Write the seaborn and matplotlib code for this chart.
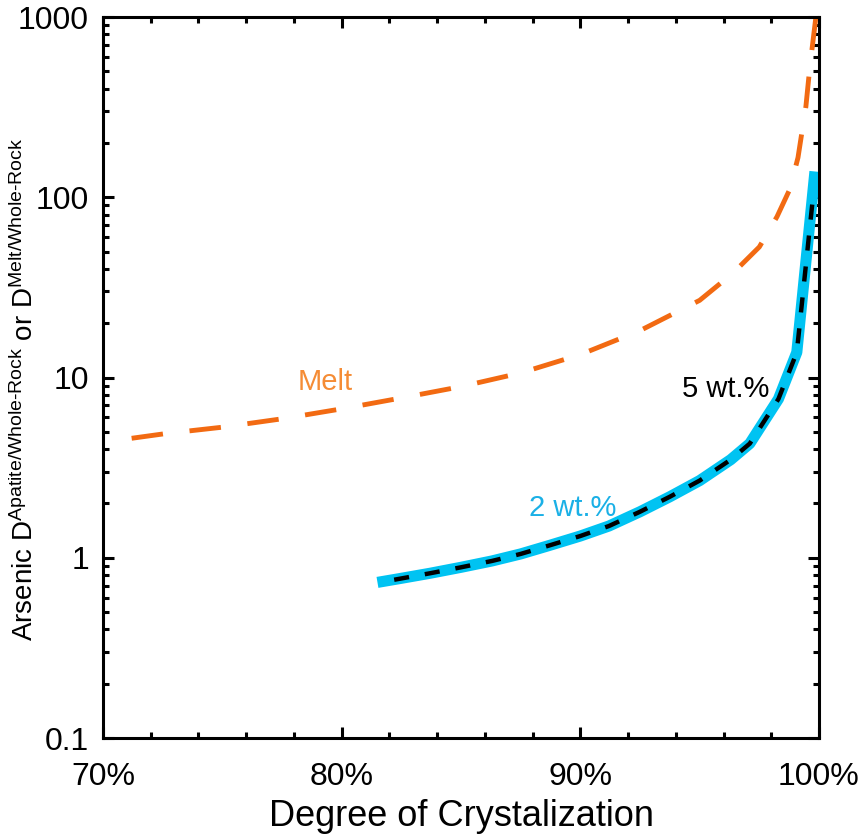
import matplotlib
matplotlib.use('Agg')
import matplotlib.pyplot as plt
from matplotlib.ticker import FixedLocator, MultipleLocator, FuncFormatter, NullFormatter
import numpy as np
import pandas as pd
import seaborn as sns

# degree of crystallisation (%) and D values
melt_f = [71.2, 72.7, 75.0, 77.5, 80.0, 82.5, 85.0, 87.5, 90.0, 92.5, 95.0,
          96.4, 97.5, 98.24, 98.78, 99.12, 99.45, 99.62, 99.87]
melt_d = [4.6, 4.9, 5.3, 5.9, 6.7, 7.7, 8.9, 10.6, 13.4, 18.2, 26.8,
          38, 53, 78, 111, 166, 318, 533, 1000]

ap2_f = [81.5, 82.4, 83.7, 85.0, 86.3, 87.5, 88.7, 90.0, 91.2, 92.5, 93.75,
         95.0, 96.3, 97.1, 98.3, 99.07, 99.83]
ap2_d = [0.73, 0.765, 0.82, 0.885, 0.96, 1.05, 1.17, 1.32, 1.5, 1.8, 2.18,
         2.68, 3.5, 4.3, 7.6, 13.8, 139]

ap5_f = [82.2, 83.7, 85.0, 86.3, 87.5, 88.7, 90.0, 91.2, 92.5, 93.75,
         95.0, 96.3, 97.1, 98.3, 99.07, 99.78]
ap5_d = [0.755, 0.82, 0.885, 0.96, 1.05, 1.17, 1.32, 1.5, 1.8, 2.18,
         2.68, 3.5, 4.3, 7.6, 13.8, 110]

x_ticks = [70, 80, 90, 100]
y_ticks = [0.1, 1, 10, 100, 1000]
y_ticklabels = ['0.1', '1', '10', '100', '1000']

sns.set_style('ticks')
plt.rcParams['font.family'] = ['Liberation Sans', 'DejaVu Sans']
plt.rcParams['mathtext.fontset'] = 'custom'
plt.rcParams['mathtext.rm'] = 'Liberation Sans'
plt.rcParams['mathtext.it'] = 'Liberation Sans'
for k in ['text.color', 'axes.labelcolor', 'xtick.color', 'ytick.color']:
    plt.rcParams[k] = 'black'

fig = plt.figure(figsize=(8.64, 8.35), dpi=100)
ax = fig.add_axes([103/864, 1-738/835, 716/864, 721/835])

orange = '#F26A12'
blue = '#00C3F2'

melt = pd.DataFrame({'F': melt_f, 'D': melt_d})
ap2 = pd.DataFrame({'F': ap2_f, 'D': ap2_d})
ap5 = pd.DataFrame({'F': ap5_f, 'D': ap5_d})

sns.lineplot(data=melt, x='F', y='D', ax=ax, color=orange, linewidth=3.5,
             linestyle=(0, (6.5, 5.5)), estimator=None, sort=False)
sns.lineplot(data=ap2, x='F', y='D', ax=ax, color=blue, linewidth=8,
             estimator=None, sort=False, solid_capstyle='butt')
sns.lineplot(data=ap5, x='F', y='D', ax=ax, color='black', linewidth=3.2,
             linestyle=(0, (3.4, 3.6)), estimator=None, sort=False)

ax.set_yscale('log')
ax.set_xlim(70, 100)
ax.set_ylim(0.1, 1000)
ax.xaxis.set_major_locator(FixedLocator(x_ticks))
ax.xaxis.set_minor_locator(MultipleLocator(2))
ax.xaxis.set_major_formatter(FuncFormatter(lambda v, p: '%d%%' % round(v)))
ax.yaxis.set_major_locator(FixedLocator(y_ticks))
ax.set_yticklabels(y_ticklabels)
ax.yaxis.set_minor_locator(matplotlib.ticker.LogLocator(base=10, subs=np.arange(2, 10)))
ax.yaxis.set_minor_formatter(NullFormatter())

for s in ax.spines.values():
    s.set_visible(True)
    s.set_linewidth(2.2)
    s.set_color('black')
ax.tick_params(which='both', direction='in', top=True, right=True, width=2.2, color='black')
ax.tick_params(which='major', length=8, labelsize=23, labelcolor='black')
ax.tick_params(which='minor', length=4)
ax.tick_params(axis='x', pad=17)
ax.tick_params(axis='y', pad=10)

ax.set_xlabel('Degree of Crystalization', fontsize=26, labelpad=5)
ax.set_ylabel(r'Arsenic D$^{\text{Apatite/Whole-Rock}}$ or D$^{\text{Melt/Whole-Rock}}$',
              fontsize=20)
ax.yaxis.set_label_coords(-0.089, 0.483)

ax.text(79.3, 9.4, 'Melt', color='#F58C35', fontsize=21, ha='center', va='center')
ax.text(89.7, 1.9, '2 wt.%', color='#1AB0E6', fontsize=21, ha='center', va='center')
ax.text(96.1, 8.6, '5 wt.%', color='black', fontsize=21, ha='center', va='center')

fig.savefig('out.png', dpi=100)
